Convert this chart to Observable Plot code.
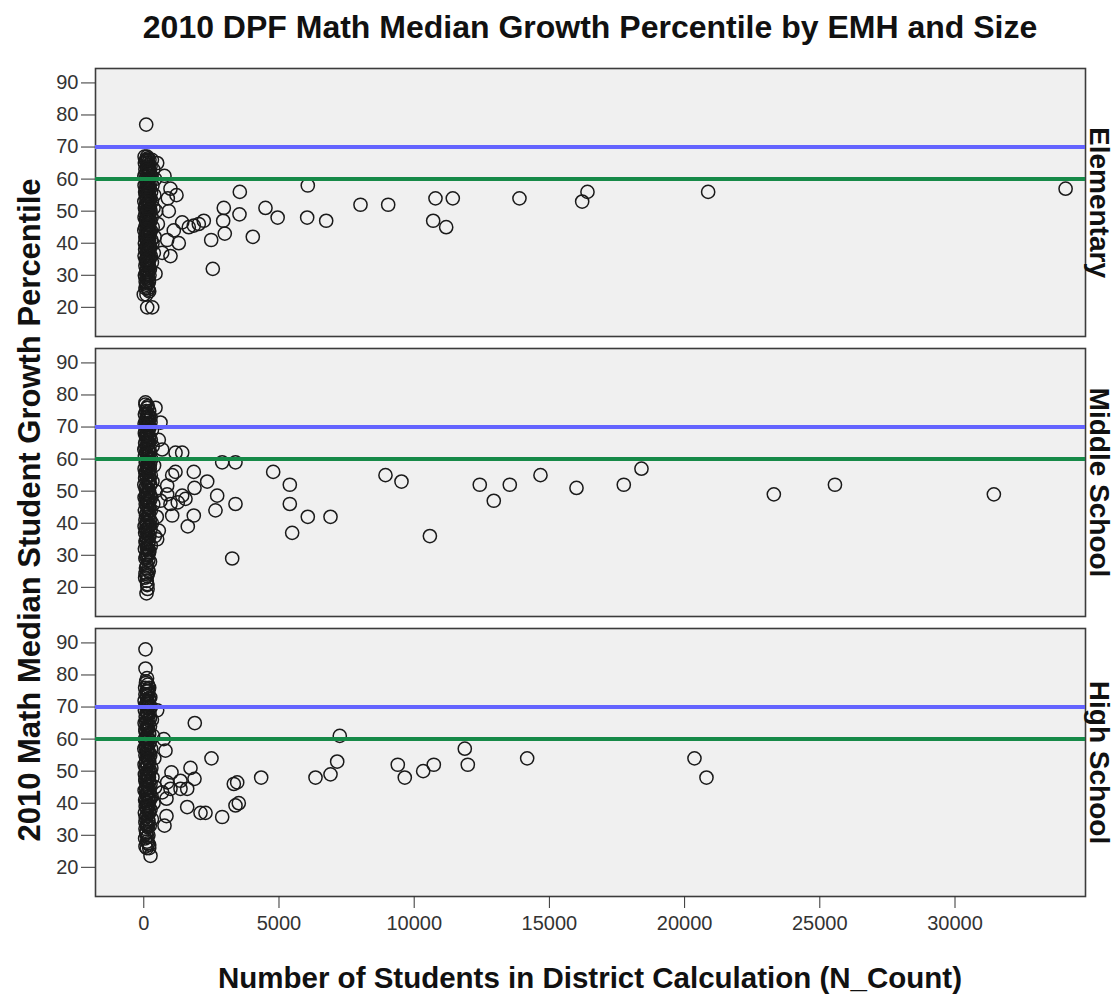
<!DOCTYPE html>
<html>
<head>
<meta charset="utf-8">
<script src="https://cdn.jsdelivr.net/npm/d3@7"></script>
<script src="https://cdn.jsdelivr.net/npm/@observablehq/plot@0.6"></script>
<style>
  body { margin: 0; background: #fff; }
  #chart { position: relative; width: 1117px; height: 996px; font-family: "Liberation Sans", Arial, sans-serif; }
  #chart svg { position: absolute; left: 0; top: 0; }
  .lbl { position: absolute; font-weight: bold; color: #111; white-space: nowrap; line-height: 1; z-index: 2; }
  #title { left: 95px; width: 990px; text-align: center; top: 11px; font-size: 32px; }
  #xlabel { left: 95px; width: 990px; text-align: center; top: 963px; font-size: 29.5px; }
  #ylabel { left: 29px; top: 510px; font-size: 31px; transform: translate(-50%, -50%) rotate(-90deg); }
</style>
</head>
<body>
<div id="chart">
  <div class="lbl" id="title">2010 DPF Math Median Growth Percentile by EMH and Size</div>
  <div class="lbl" id="ylabel">2010 Math Median Student Growth Percentile</div>
  <div class="lbl" id="xlabel">Number of Students in District Calculation (N_Count)</div>
</div>
<script>
// School levels, top to bottom
const levels = ["Elementary", "Middle School", "High School"];

// Reference percentiles drawn across every panel
const targetHigh = 70;
const targetLow = 60;

// Axis tick values
const xTicks = [0, 5000, 10000, 15000, 20000, 25000, 30000];
const yTicks = [20, 30, 40, 50, 60, 70, 80, 90];

// [N_Count, median growth percentile] per district — Elementary
const elementary = [
  [30,67],[120,67],[210,66],[80,66],[160,65],[300,66],[40,65],[250,64],[130,64],[190,63],
  [60,63],[350,63],[100,62],[230,62],[170,61],[20,61],[280,61],[140,60],[70,60],[200,60],
  [420,60],[110,59],[250,59],[30,58],[180,58],[320,58],[90,57],[150,57],[220,57],[50,56],
  [270,56],[130,56],[390,55],[190,55],[70,55],[240,54],[110,54],[160,53],[20,53],[300,53],
  [210,52],[80,52],[140,52],[360,51],[40,51],[180,51],[250,50],[100,50],[460,50],[150,49],
  [60,49],[210,49],[290,48],[120,48],[30,48],[170,47],[240,47],[80,47],[520,46],[140,46],
  [200,46],[50,45],[330,45],[110,45],[180,44],[260,44],[20,44],[140,43],[90,43],[220,43],
  [400,42],[160,42],[60,42],[280,41],[120,41],[200,41],[40,40],[170,40],[320,40],[90,39],
  [230,39],[140,38],[50,38],[190,38],[370,37],[110,37],[260,36],[160,36],[30,36],[210,35],
  [80,35],[140,34],[300,34],[180,33],[60,33],[120,32],[230,32],[90,31],[170,31],[40,30],
  [210,30],[130,29],[70,28],[190,28],[110,27],[150,26],[60,26],[200,25],[100,24],
  [150,66.5],[90,65.5],[200,64.5],[120,63.5],[170,62.5],[60,61.5],[230,60.5],[110,59.5],[160,58.5],
  [200,57.5],[80,56.5],[140,55.5],[210,54.5],[120,53.5],[180,52.5],[60,51.5],[230,50.5],[130,49.5],
  [170,48.5],[90,47.5],[200,46.5],[150,45.5],[110,44.5],[240,43.5],[170,42.5],[70,41.5],[140,40.5],
  [210,39.5],[100,38.5],[170,37.5],[130,36.5],[220,35.5],[80,34.5],[160,33.5],[200,32.5],[110,31.5],
  [150,30.5],[60,29.5],[180,28.5],[130,27.5],[90,26.5],[170,25.5],[140,62],[100,58],[190,50],
  [120,44],[160,39],[90,34],[130,66],[170,55],[110,47],[140,35],[190,43],[100,53],[150,63],[120,30],
  [89,77],[126,20],[311,20],[0,24],[433,30.5],[495,65],[765,61],[987,57],[888,54],[925,50],
  [1209,55],[1420,46.5],[1664,45],[1849,45.5],[2034,46],[2219,47],[1109,44],[865,41],[1294,40],
  [987,36],[680,37],[2492,41],[2552,32],[2936,47],[2959,51],[2995,43],[3551,56],[3539,49],
  [4031,42],[4500,51],[4950,48],[6065,58],[6042,48],[6745,47],[8014,52],[9038,52],[10787,54],
  [11427,54],[10702,47],[11183,45],[13893,54],[16408,56],[16212,53],[20871,56],[34090,57]
];

// Middle School
const middle = [
  [60,77],[130,76],[90,75],[200,75],[40,74],[150,74],[110,73],[250,73],[70,72],[180,72],
  [30,71],[140,71],[220,70],[100,70],[60,69],[170,69],[300,69],[120,68],[40,68],[210,67],
  [80,67],[150,66],[260,66],[50,65],[190,65],[110,64],[330,64],[20,63],[160,63],[230,62],
  [90,62],[140,61],[40,61],[200,60],[280,60],[70,59],[170,59],[120,58],[380,58],[30,57],
  [220,57],[150,56],[80,56],[260,55],[190,55],[50,54],[110,54],[320,53],[170,53],[20,52],
  [240,52],[130,51],[60,51],[200,50],[440,50],[90,49],[160,49],[280,48],[30,48],[220,47],
  [120,47],[350,46],[70,46],[180,45],[140,45],[40,44],[260,44],[100,43],[200,43],[480,42],
  [150,42],[60,41],[230,41],[120,40],[300,40],[30,39],[180,39],[90,38],[250,38],[150,37],
  [50,37],[410,36],[210,36],[110,35],[170,34],[70,34],[260,33],[130,32],[40,32],[200,31],
  [100,30],[160,30],[60,29],[230,28],[120,27],[80,26],[180,25],[140,24],[50,23],[110,22],
  [150,76.5],[100,74.5],[190,73.5],[130,72.5],[80,70.5],[170,69.5],[120,67.5],[200,66.5],[100,65.5],
  [160,64.5],[60,63.5],[210,62.5],[130,61.5],[170,60.5],[90,59.5],[230,58.5],[140,57.5],[190,56.5],
  [60,55.5],[120,54.5],[210,53.5],[150,52.5],[90,51.5],[180,50.5],[130,49.5],[230,48.5],[70,47.5],
  [160,46.5],[120,45.5],[200,44.5],[140,43.5],[80,42.5],[180,41.5],[110,40.5],[220,39.5],[150,38.5],
  [90,37.5],[190,36.5],[130,35.5],[70,34.5],[160,33.5],[110,32.5],[200,31.5],[140,30.5],[90,29.5],
  [170,28.5],[110,26.5],[150,25.5],[120,23.5],[130,21],[140,19.5],[150,68],[110,57],[170,47],
  [100,39],[150,32],[130,71],[160,53],
  [63,77.7],[126,76],[433,76],[248,71.4],[618,71.4],[555,66],[680,63],[1174,62],[1420,62],
  [63,24.3],[126,20.7],[100,18.1],[495,35],[555,37.7],[618,47],[865,51.7],[865,49],[987,46],
  [1050,55],[1172,56],[1257,46.5],[1420,48.6],[1542,47.6],[1050,42.4],[1627,39],[1849,42.4],
  [1849,56],[1875,51],[2345,53],[2714,48.6],[2651,44],[2899,59],[3391,59],[3391,46],[3269,29],
  [4785,56],[5400,52],[5400,46],[5487,37],[6065,42],[6905,42],[8938,55],[9530,53],[10580,36],
  [12425,52],[12943,47],[13535,52],[14670,55],[16002,51],[17751,52],[18405,57],[23300,49],
  [25560,52],[31437,49]
];

// High School
const high = [
  [90,78],[150,77],[50,76],[200,76],[110,75],[170,74],[60,74],[240,73],[130,72],[30,72],
  [190,71],[90,71],[150,70],[260,70],[40,69],[120,68],[210,68],[70,67],[170,66],[300,66],
  [100,65],[30,65],[230,64],[140,63],[60,63],[190,62],[100,61],[340,61],[40,60],[160,60],
  [220,59],[80,58],[130,58],[270,57],[20,57],[180,56],[110,56],[60,55],[240,55],[150,54],
  [390,54],[90,53],[200,53],[30,52],[130,52],[280,51],[70,51],[170,50],[230,50],[110,49],
  [40,49],[320,48],[190,48],[140,47],[60,47],[250,46],[100,46],[420,45],[170,45],[30,44],
  [210,44],[130,43],[80,43],[290,42],[160,42],[50,41],[220,41],[110,40],[360,40],[180,39],
  [70,39],[140,38],[250,38],[40,37],[200,37],[100,36],[160,35],[300,35],[60,34],[130,33],
  [220,33],[90,31],[170,30],[50,29],[120,28],[200,27],
  [120,79],[80,77.5],[160,75.5],[110,73.5],[200,72.5],[140,71.5],[70,70.5],[180,69.5],[110,68.5],
  [150,67.5],[230,66.5],[90,65.5],[170,64.5],[120,63.5],[60,62.5],[200,61.5],[140,60.5],[100,59.5],
  [180,58.5],[60,57.5],[150,56.5],[210,55.5],[110,54.5],[170,53.5],[80,52.5],[140,51.5],[210,50.5],
  [100,49.5],[160,48.5],[60,47.5],[200,46.5],[130,45.5],[90,44.5],[170,43.5],[120,42.5],[210,41.5],
  [80,40.5],[150,39.5],[110,38.5],[190,37.5],[140,36.5],[70,35.5],[170,34.5],[110,33.5],[150,32.5],
  [90,30.5],[130,29.5],[160,27.5],[110,26],[140,57],[120,48],[160,41],[100,70],[130,64],[150,75],
  [63,88],[63,82],[495,69],[740,60],[802,56.4],[1886,65],[2503,54],[1727,51],[1875,47.6],
  [1605,44.5],[1357,44.5],[1024,49.6],[1357,47],[865,46.5],[987,44.5],[680,43.4],[839,41.4],
  [1605,38.8],[2097,37],[2282,37],[2899,35.7],[3329,46],[3454,46.5],[4341,48],[3391,39.3],
  [3513,40],[839,36],[765,33],[63,32],[63,26.5],[248,23.6],[200,26],
  [6350,48],[6905,49],[7152,53],[7248,61],[9393,52],[9652,48],[10332,50],[10725,52],
  [11871,57],[11982,52],[14178,54],[20365,54],[20809,48]
];

const rows = [
  ...elementary.map(([n, g]) => ({level: levels[0], n, g})),
  ...middle.map(([n, g]) => ({level: levels[1], n, g})),
  ...high.map(([n, g]) => ({level: levels[2], n, g}))
];

const ink = "#333";

const plot = Plot.plot({
  width: 1117,
  height: 996,
  marginTop: 67,
  marginBottom: 98,
  marginLeft: 95,
  marginRight: 32,
  style: {fontFamily: "'Liberation Sans', Arial, sans-serif", fontSize: "20px", color: ink, background: "transparent"},
  x: {domain: [-1786, 34826]},
  y: {domain: [10.9, 94.5]},
  fy: {domain: levels, paddingInner: 0.0427, paddingOuter: 0, axis: null, label: null},
  marks: [
    Plot.frame({fill: "#f0f0f0", stroke: "#3c3c3c", strokeWidth: 1.6}),
    Plot.dot(rows, {x: "n", y: "g", fy: "level", r: 6.6, stroke: "#1a1a1a", strokeWidth: 1.5, fill: "none"}),
    Plot.ruleY([targetHigh], {stroke: "#6464ff", strokeWidth: 4}),
    Plot.ruleY([targetLow], {stroke: "#168a48", strokeWidth: 4}),
    Plot.axisY(yTicks, {tickSize: 14, tickPadding: 3, stroke: ink, fill: ink, label: null}),
    Plot.axisX(xTicks, {tickSize: 12, tickPadding: 7, stroke: ink, fill: ink, label: null, tickFormat: d => String(d)}),
    Plot.text(levels, {
      fy: d => d, text: d => d, frameAnchor: "right", dx: 13, rotate: 90,
      textAnchor: "middle", lineAnchor: "middle",
      fontSize: 28, fontWeight: "bold", fill: "#111"
    })
  ]
});

document.getElementById("chart").prepend(plot);
</script>
</body>
</html>
